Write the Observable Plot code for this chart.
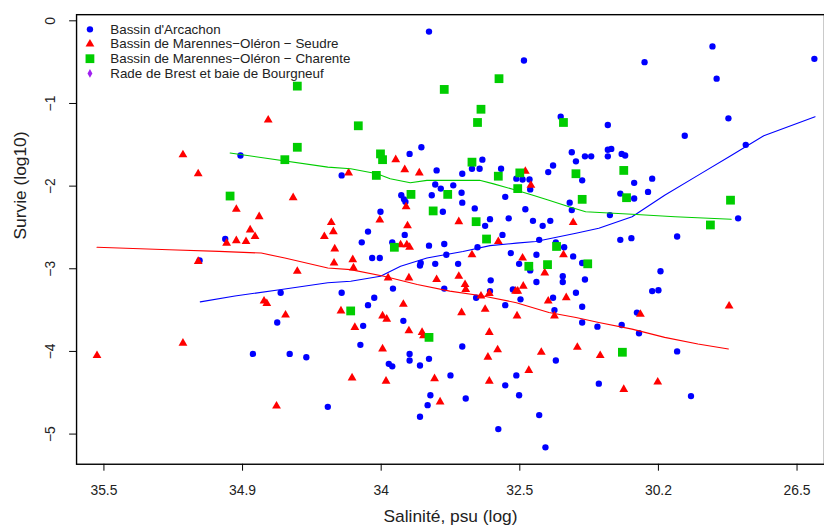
<!DOCTYPE html>
<html><head><meta charset="utf-8">
<script src="https://cdn.jsdelivr.net/npm/d3@7"></script>
<script src="https://cdn.jsdelivr.net/npm/@observablehq/plot@0.6"></script>
<style>
html,body{margin:0;padding:0;background:#fff;overflow:hidden;width:824px;height:531px}
#chart svg{display:block}
</style></head><body><div id="chart"></div>
<script>
// x = position on the log salinity axis (log10(36.5 - salinity)), y = Survie (log10)
const xTicks = [0, 0.2, 0.4, 0.6, 0.8, 1.0];
const xTickLabels = ["35.5", "34.9", "34", "32.5", "30.2", "26.5"];
const yTicks = [0, -1, -2, -3, -4, -5];
const yTickLabels = ["0", "\u22121", "\u22122", "\u22123", "\u22124", "\u22125"];

const seriesNames = ["Bassin d'Arcachon", "Bassin de Marennes\u2212Oléron \u2212 Seudre", "Bassin de Marennes\u2212Oléron \u2212 Charente", "Rade de Brest et baie de Bourgneuf"];
const seriesColors = ["#0000FF", "#FF0000", "#00CD00", "#A020F0"];

const arcachon = [[0.197,-1.63],[0.175,-2.64],[0.138,-2.90],[0.255,-3.29],[0.250,-3.65],[0.215,-4.03],[0.268,-4.03],[0.292,-4.07],[0.323,-4.67],[0.469,-0.13],[0.606,-0.48],[0.659,-1.16],[0.458,-1.53],[0.441,-1.61],[0.480,-1.81],[0.546,-1.68],[0.531,-1.79],[0.542,-1.79],[0.517,-1.85],[0.573,-1.79],[0.595,-1.91],[0.604,-1.92],[0.614,-1.92],[0.615,-2.04],[0.641,-1.83],[0.648,-1.75],[0.675,-1.59],[0.681,-1.70],[0.343,-1.87],[0.478,-1.98],[0.486,-2.03],[0.504,-1.99],[0.516,-2.08],[0.473,-2.11],[0.429,-2.11],[0.433,-2.16],[0.435,-2.19],[0.517,-2.20],[0.579,-2.13],[0.535,-2.27],[0.608,-2.28],[0.489,-2.31],[0.399,-2.31],[0.381,-2.55],[0.434,-2.59],[0.557,-2.40],[0.550,-2.48],[0.584,-2.39],[0.619,-2.42],[0.633,-2.48],[0.644,-2.42],[0.672,-2.20],[0.675,-2.29],[0.575,-2.59],[0.628,-2.65],[0.878,-0.31],[1.025,-0.46],[0.780,-0.50],[0.884,-0.70],[0.901,-1.18],[0.727,-1.26],[0.838,-1.39],[0.926,-1.50],[0.727,-1.56],[0.732,-1.55],[0.727,-1.64],[0.747,-1.61],[0.752,-1.63],[0.694,-1.64],[0.703,-1.64],[0.690,-1.93],[0.791,-1.91],[0.765,-1.96],[0.785,-2.07],[0.745,-2.09],[0.765,-2.15],[0.730,-2.35],[0.915,-2.39],[0.745,-2.65],[0.761,-2.63],[0.827,-2.61],[0.372,-2.68],[0.416,-2.68],[0.469,-2.72],[0.491,-2.70],[0.539,-2.74],[0.652,-2.68],[0.664,-2.74],[0.677,-2.85],[0.387,-2.87],[0.398,-2.87],[0.494,-2.83],[0.587,-2.81],[0.624,-2.83],[0.457,-2.93],[0.456,-2.96],[0.478,-2.94],[0.511,-2.94],[0.599,-2.94],[0.615,-3.02],[0.662,-3.09],[0.662,-3.16],[0.624,-3.16],[0.558,-3.14],[0.417,-3.24],[0.491,-3.24],[0.557,-3.27],[0.590,-3.25],[0.343,-3.29],[0.537,-3.35],[0.601,-3.37],[0.648,-3.35],[0.681,-3.29],[0.390,-3.35],[0.381,-3.44],[0.579,-3.44],[0.650,-3.50],[0.432,-3.63],[0.374,-3.69],[0.370,-3.92],[0.517,-3.94],[0.441,-4.03],[0.441,-4.11],[0.411,-4.15],[0.416,-4.18],[0.456,-4.17],[0.469,-4.09],[0.652,-4.11],[0.500,-4.29],[0.595,-4.29],[0.579,-4.41],[0.599,-4.53],[0.471,-4.53],[0.467,-4.65],[0.522,-4.57],[0.456,-4.79],[0.628,-4.77],[0.569,-4.94],[0.637,-5.16],[0.690,-2.93],[0.803,-3.03],[0.694,-3.13],[0.791,-3.27],[0.800,-3.26],[0.690,-3.46],[0.769,-3.53],[0.690,-3.65],[0.712,-3.70],[0.747,-3.68],[0.772,-3.78],[0.827,-4.00],[0.714,-4.39],[0.847,-4.54]];

const seudre = [[0.237,-1.20],[0.114,-1.62],[0.136,-1.85],[0.273,-2.14],[0.191,-2.28],[0.224,-2.37],[0.211,-2.53],[0.218,-2.61],[0.177,-2.69],[0.191,-2.66],[0.205,-2.67],[0.318,-2.61],[0.136,-2.91],[0.279,-3.03],[0.231,-3.39],[0.235,-3.42],[0.262,-3.56],[0.114,-3.90],[-0.010,-4.05],[0.249,-4.66],[0.421,-1.68],[0.434,-1.80],[0.455,-1.84],[0.608,-1.82],[0.616,-1.99],[0.353,-1.84],[0.436,-2.25],[0.398,-2.41],[0.328,-2.44],[0.331,-2.55],[0.438,-2.48],[0.512,-2.43],[0.677,-2.44],[0.428,-2.71],[0.437,-2.71],[0.441,-2.74],[0.569,-2.67],[0.663,-2.83],[0.333,-2.76],[0.531,-2.83],[0.604,-2.87],[0.332,-2.93],[0.359,-2.89],[0.360,-2.99],[0.636,-3.05],[0.410,-3.11],[0.440,-3.11],[0.480,-3.13],[0.512,-3.09],[0.521,-3.19],[0.522,-3.25],[0.594,-3.27],[0.597,-3.27],[0.605,-3.21],[0.544,-3.33],[0.556,-3.30],[0.641,-3.39],[0.667,-3.35],[0.432,-3.43],[0.550,-3.49],[0.650,-3.57],[0.342,-3.51],[0.516,-3.53],[0.596,-3.57],[0.402,-3.57],[0.408,-3.61],[0.362,-3.71],[0.440,-3.75],[0.459,-3.77],[0.461,-3.81],[0.556,-3.77],[0.402,-3.97],[0.568,-3.98],[0.554,-4.07],[0.631,-4.01],[0.613,-4.23],[0.358,-4.32],[0.407,-4.36],[0.477,-4.33],[0.556,-4.36],[0.485,-4.61],[0.902,-3.45],[0.774,-3.55],[0.683,-3.95],[0.716,-4.05],[0.750,-4.46],[0.799,-4.37]];

const charente = [[0.279,-0.79],[0.279,-1.53],[0.261,-1.68],[0.182,-2.12],[0.570,-0.70],[0.491,-0.83],[0.544,-1.07],[0.539,-1.23],[0.367,-1.27],[0.663,-1.23],[0.399,-1.61],[0.402,-1.68],[0.531,-1.71],[0.569,-1.88],[0.600,-1.84],[0.597,-2.03],[0.393,-1.87],[0.496,-2.10],[0.443,-2.10],[0.475,-2.30],[0.537,-2.43],[0.552,-2.64],[0.681,-1.85],[0.750,-1.81],[0.754,-2.14],[0.690,-2.16],[0.904,-2.17],[0.875,-2.47],[0.419,-2.74],[0.653,-2.73],[0.613,-2.97],[0.640,-2.95],[0.698,-2.94],[0.356,-3.51],[0.469,-3.83],[0.748,-4.01]];

const brest = [];

// smoothed (lowess) curves
const arcachonSmooth = [[0.139,-3.40],[0.189,-3.33],[0.256,-3.25],[0.323,-3.17],[0.356,-3.15],[0.399,-3.09],[0.428,-2.97],[0.466,-2.87],[0.518,-2.79],[0.557,-2.72],[0.595,-2.69],[0.623,-2.67],[0.681,-2.57],[0.714,-2.51],[0.762,-2.37],[0.809,-2.11],[0.857,-1.87],[0.905,-1.63],[0.952,-1.39],[1.026,-1.16]];
const seudreSmooth = [[-0.010,-2.74],[0.094,-2.77],[0.166,-2.79],[0.227,-2.81],[0.261,-2.87],[0.323,-2.99],[0.356,-3.01],[0.404,-3.09],[0.452,-3.19],[0.499,-3.27],[0.547,-3.33],[0.595,-3.41],[0.642,-3.53],[0.681,-3.59],[0.714,-3.65],[0.762,-3.73],[0.809,-3.83],[0.857,-3.91],[0.901,-3.97]];
const charenteSmooth = [[0.182,-1.60],[0.323,-1.77],[0.356,-1.79],[0.394,-1.85],[0.413,-1.91],[0.442,-1.96],[0.466,-1.93],[0.499,-1.93],[0.542,-1.93],[0.561,-1.97],[0.595,-2.05],[0.619,-2.11],[0.642,-2.17],[0.671,-2.25],[0.695,-2.31],[0.762,-2.34],[0.824,-2.37],[0.905,-2.40]];

const pts = a => a.map(([x, y]) => ({x, y}));
const font = "'Liberation Sans', Arial, Helvetica, sans-serif";

const legendSymbols = ["circle", "triangle", "square", "diamond"];
const legendR = [3.2, 3.3, 5.0, 2.6];
const legendMarks = seriesNames.flatMap((name, i) => [
  Plot.dot([name], {frameAnchor: "top-left", dx: 13.5, dy: 14.8 + i * 14.8, symbol: legendSymbols[i], r: legendR[i], fill: seriesColors[i], stroke: "none"}),
  Plot.text([name], {frameAnchor: "top-left", dx: 34, dy: 14.8 + i * 14.8, text: d => d, textAnchor: "start", lineAnchor: "middle", fontSize: 13.5, fill: "#222"})
]);

const chart = Plot.plot({
  width: 831,
  height: 531,
  marginLeft: 76.7,
  marginRight: 0,
  marginTop: 14.3,
  marginBottom: 63.3,
  style: {fontFamily: font, fontSize: "14px", color: "#222", background: "#fff"},
  x: {domain: [-0.0395, 1.0396]},
  y: {domain: [-5.365, 0.0744]},
  marks: [
    Plot.axisX({ticks: xTicks, tickFormat: d => xTickLabels[xTicks.indexOf(d)], tickSize: 7, tickPadding: 14, fontSize: 14, label: null, stroke: "#000"}),
    Plot.axisY({ticks: yTicks, tickFormat: d => yTickLabels[yTicks.indexOf(d)], tickSize: 7, tickPadding: 15, tickRotate: -90, textAnchor: "middle", lineAnchor: "bottom", fontSize: 14, label: null, stroke: "#000"}),
    Plot.dot(pts(arcachon), {x: "x", y: "y", r: 3.2, fill: seriesColors[0], stroke: "none"}),
    Plot.dot(pts(seudre), {x: "x", y: "y", symbol: "triangle", r: 3.3, fill: seriesColors[1], stroke: "none"}),
    Plot.dot(pts(charente), {x: "x", y: "y", symbol: "square", r: 5.0, fill: seriesColors[2], stroke: "none"}),
    Plot.dot(pts(brest), {x: "x", y: "y", symbol: "diamond", r: 2.6, fill: seriesColors[3], stroke: "none"}),
    Plot.line(pts(arcachonSmooth), {x: "x", y: "y", stroke: seriesColors[0], strokeWidth: 1.1}),
    Plot.line(pts(seudreSmooth), {x: "x", y: "y", stroke: seriesColors[1], strokeWidth: 1.1}),
    Plot.line(pts(charenteSmooth), {x: "x", y: "y", stroke: seriesColors[2], strokeWidth: 1.1}),
    ...legendMarks,
    Plot.text(["Salinité, psu (log)"], {frameAnchor: "bottom", dy: 53, text: d => d, fontSize: 17.5, lineAnchor: "middle", fill: "#222"}),
    Plot.text(["Survie (log10)"], {frameAnchor: "left", dx: -57, rotate: -90, text: d => d, fontSize: 17.5, lineAnchor: "middle", fill: "#222"}),
    Plot.frame({stroke: "#000", strokeWidth: 1.4})
  ]
});
document.getElementById("chart").appendChild(chart);
</script>
</body></html>
